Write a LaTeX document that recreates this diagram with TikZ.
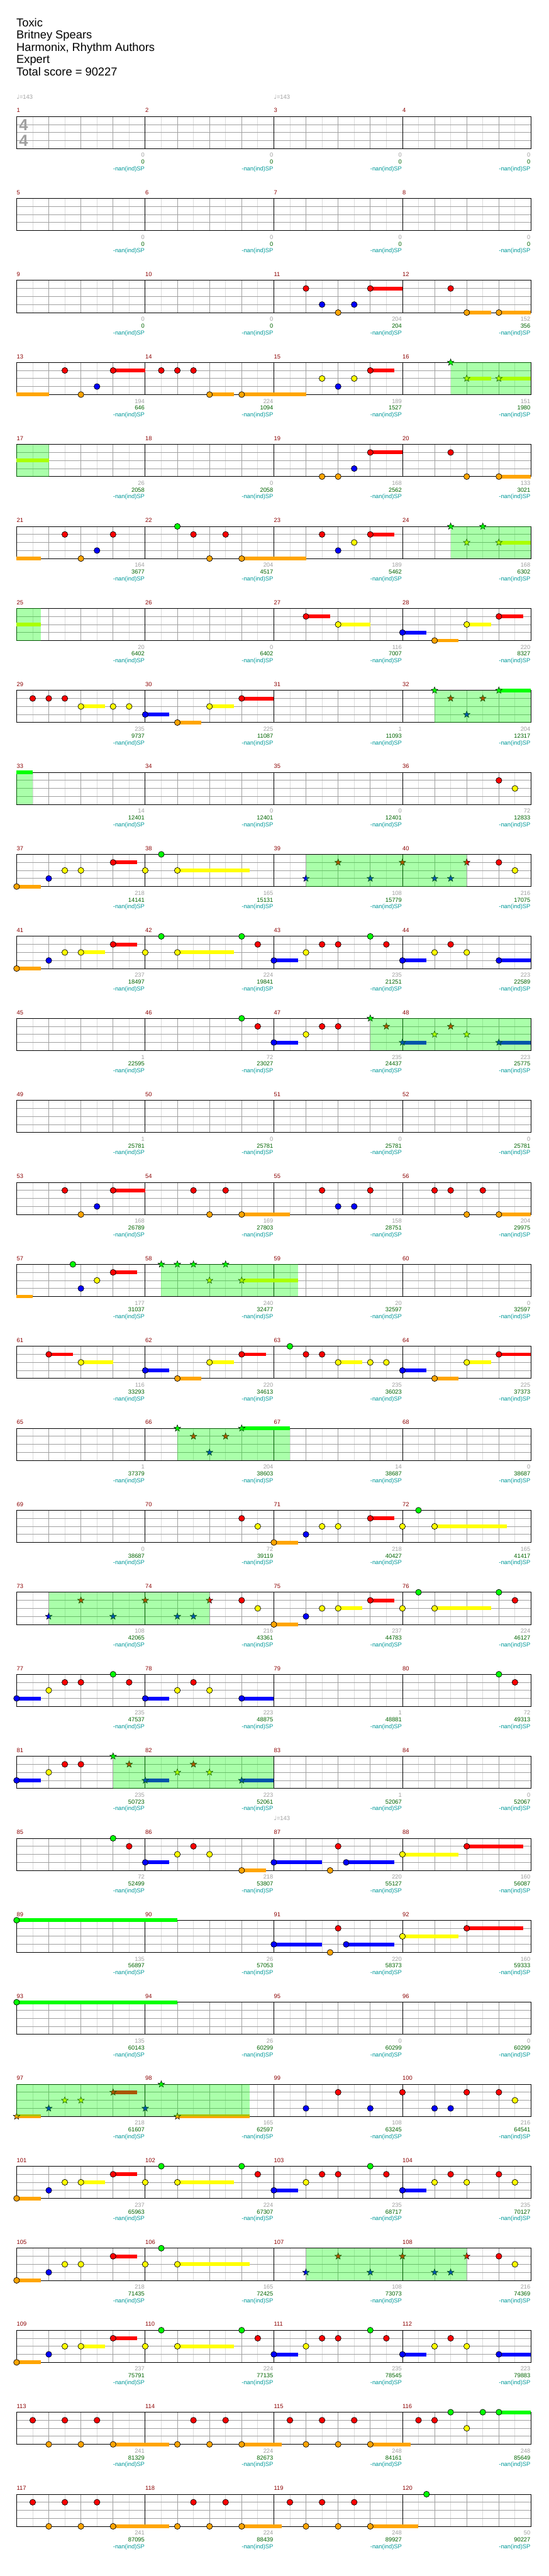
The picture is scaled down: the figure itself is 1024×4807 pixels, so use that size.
\documentclass[tikz,border=0pt]{standalone}
\usepackage{fontspec}
\setmainfont{Liberation Sans}
\newfontfamily\symfont{DejaVu Sans}
\usetikzlibrary{shapes.geometric}
\definecolor{cG}{HTML}{00FF00}
\definecolor{cR}{HTML}{FF0000}
\definecolor{cY}{HTML}{FFFF00}
\definecolor{cB}{HTML}{0000FF}
\definecolor{cO}{HTML}{FFA500}
\definecolor{gridlight}{HTML}{DCDCDC}
\definecolor{gridmid}{HTML}{A0A0A0}
\definecolor{mnum}{HTML}{8B0000}
\definecolor{scgreen}{HTML}{006400}
\definecolor{spteal}{HTML}{009999}
\def\laneG{0}\def\laneR{1}\def\laneY{2}\def\laneB{3}\def\laneO{4}
\newcommand\ly[1]{\csname lane#1\endcsname}
\tikzset{
  notedot/.style={draw=black, line width=0.8pt, circle, inner sep=0pt, minimum size=11pt},
  starnote/.style={draw=black, line width=0.6pt, star, star points=5, star point ratio=2.4, inner sep=0pt, minimum size=13pt},
  susbar/.style={line width=7pt},
  smalltxt/.style={font=\fontsize{11}{11}\selectfont, inner sep=0pt},
  mnumlab/.style={smalltxt, anchor=base west, text=mnum},
  sclab/.style={smalltxt, anchor=base east},
  spbox/.style={fill=cG, fill opacity=0.3333},
  gridthin/.style={line width=1pt},
  headtxt/.style={anchor=base west, font=\fontsize{21.5}{21.5}\selectfont, inner sep=0pt},
}
\newcommand\xsus[3]{\draw[susbar, c#1] (#2,\ly{#1}) -- (#3,\ly{#1});}
\newcommand\xn[2]{\node[notedot, fill=c#1] at (#2,\ly{#1}) {};}
\newcommand\xns[3]{\xsus{#1}{#2}{#3}\xn{#1}{#2}}
\newcommand\xs[2]{\node[starnote, fill=c#1] at (#2,\ly{#1}) {};}
\newcommand\xss[3]{\xsus{#1}{#2}{#3}\xs{#1}{#2}}
\newcommand\xsp[2]{\fill[spbox] (#1,0) rectangle (#2,4);}
\newcommand\xgrid{%
  \foreach \i in {1,3,...,31} \draw[gridlight, gridthin] (\i,0) -- (\i,4);
  \foreach \j in {1,2,3} \draw[gridmid, gridthin] (0,\j) -- (32,\j);
  \foreach \i in {2,4,6,10,12,14,18,20,22,26,28,30} \draw[gridmid, gridthin] (\i,0) -- (\i,4);
  \foreach \i in {8,16,24} \draw[black, gridthin] (\i,0) -- (\i,4);
  \draw[black, gridthin] (0,0) rectangle (32,4);
}
\newcommand\xlab[4]{%
  \node[mnumlab, yshift=7.3pt] at ({8*#1},0) {#2};
  \node[sclab, text=gridmid, xshift=-1pt, yshift=-16pt] at ({8*#1+8},4) {#3};
  \node[sclab, text=scgreen, xshift=-1pt, yshift=-28.7pt] at ({8*#1+8},4) {#4};
  \node[sclab, text=spteal, xshift=-1pt, yshift=-41.3pt] at ({8*#1+8},4) {-nan(ind)SP};
}
\newcommand\xtempo[1]{\node[smalltxt, anchor=base west, text=gridmid, yshift=33pt] at ({8*#1},0) {{\symfont ♩}=143};}
\newcommand\xrow[2]{\begin{scope}[shift={(31,{217.3+153*(#1-1)})}, x=30pt, y=-15pt]\xgrid #2\end{scope}}

\begin{document}
\begin{tikzpicture}[x=1pt,y=-1pt]
\fill[white] (0,0) rectangle (1024,4807);
\useasboundingbox (0,0) rectangle (1024,4807);
\node[headtxt] (title) at (30.5,49.3) {Toxic};
\node[headtxt] (artist) at (30.5,72.3) {Britney Spears};
\node[headtxt] (author) at (30.5,95.7) {Harmonix, Rhythm Authors};
\node[headtxt] (diff) at (30.5,118.3) {Expert};
\node[headtxt] (total) at (30.5,141.7) {Total score = 90227};

% row 1
\xrow{1}{\xlab{0}{1}{0}{0}\xlab{1}{2}{0}{0}\xlab{2}{3}{0}{0}\xlab{3}{4}{0}{0}
 \xtempo{0}\xtempo{2}
 \node[font=\bfseries\fontsize{30}{30}\selectfont, text=gridmid, inner sep=0pt] (ts1) at (0.43,1.05) {4};
 \node[font=\bfseries\fontsize{30}{30}\selectfont, text=gridmid, inner sep=0pt] (ts2) at (0.43,3.05) {4};}
% row 2
\xrow{2}{\xlab{0}{5}{0}{0}\xlab{1}{6}{0}{0}\xlab{2}{7}{0}{0}\xlab{3}{8}{0}{0}}
% row 3
\xrow{3}{\xlab{0}{9}{0}{0}\xlab{1}{10}{0}{0}\xlab{2}{11}{204}{204}\xlab{3}{12}{152}{356}
 \xn{R}{18}\xn{B}{19}\xn{O}{20}\xn{B}{21}\xns{R}{22}{24}\xn{R}{27}\xns{O}{28}{29.5}\xns{O}{30}{32}}
% row 4
\xrow{4}{\xlab{0}{13}{194}{646}\xlab{1}{14}{224}{1094}\xlab{2}{15}{189}{1527}\xlab{3}{16}{151}{1980}
 \xsus{O}{0}{2}\xn{R}{3}\xn{O}{4}\xn{B}{5}\xns{R}{6}{8}\xn{R}{9}\xn{R}{10}\xn{R}{11}\xns{O}{12}{13.5}\xns{O}{14}{18}
 \xn{Y}{19}\xn{B}{20}\xn{Y}{21}\xns{R}{22}{23.5}
 \xs{G}{27}\xss{Y}{28}{29.5}\xss{Y}{30}{32}\xsp{27}{32}}
% row 5
\xrow{5}{\xlab{0}{17}{26}{2058}\xlab{1}{18}{0}{2058}\xlab{2}{19}{168}{2562}\xlab{3}{20}{133}{3021}
 \xsus{Y}{0}{2}\xn{O}{19}\xn{O}{20}\xn{B}{21}\xns{R}{22}{24}\xn{R}{27}\xn{O}{28}\xns{O}{30}{32}\xsp{0}{2}}
% row 6
\xrow{6}{\xlab{0}{21}{164}{3677}\xlab{1}{22}{204}{4517}\xlab{2}{23}{189}{5462}\xlab{3}{24}{168}{6302}
 \xsus{O}{0}{1.5}\xn{R}{3}\xn{O}{4}\xn{B}{5}\xn{R}{6}\xn{G}{10}\xn{R}{11}\xn{O}{12}\xn{R}{13}\xns{O}{14}{18}
 \xn{R}{19}\xn{B}{20}\xn{Y}{21}\xns{R}{22}{23.5}
 \xs{G}{27}\xs{Y}{28}\xs{G}{29}\xss{Y}{30}{32}\xsp{27}{32}}
% row 7
\xrow{7}{\xlab{0}{25}{20}{6402}\xlab{1}{26}{0}{6402}\xlab{2}{27}{116}{7007}\xlab{3}{28}{220}{8327}
 \xsus{Y}{0}{1.5}\xns{R}{18}{19.5}\xns{Y}{20}{22}\xns{B}{24}{25.5}\xns{O}{26}{27.5}\xns{Y}{28}{29.5}\xns{R}{30}{31.5}\xsp{0}{1.5}}
% row 8
\xrow{8}{\xlab{0}{29}{235}{9737}\xlab{1}{30}{225}{11087}\xlab{2}{31}{1}{11093}\xlab{3}{32}{204}{12317}
 \xn{R}{1}\xn{R}{2}\xn{R}{3}\xns{Y}{4}{5.5}\xn{Y}{6}\xn{Y}{7}\xns{B}{8}{9.5}\xns{O}{10}{11.5}\xns{Y}{12}{13.5}\xns{R}{14}{16}
 \xs{G}{26}\xs{R}{27}\xs{B}{28}\xs{R}{29}\xss{G}{30}{32}\xsp{26}{32}}
% row 9
\xrow{9}{\xlab{0}{33}{14}{12401}\xlab{1}{34}{0}{12401}\xlab{2}{35}{0}{12401}\xlab{3}{36}{72}{12833}
 \xsus{G}{0}{1}\xn{R}{30}\xn{Y}{31}\xsp{0}{1}}
% row 10
\xrow{10}{\xlab{0}{37}{218}{14141}\xlab{1}{38}{165}{15131}\xlab{2}{39}{108}{15779}\xlab{3}{40}{216}{17075}
 \xns{O}{0}{1.5}\xn{B}{2}\xn{Y}{3}\xn{Y}{4}\xns{R}{6}{7.5}\xn{Y}{8}\xn{G}{9}\xns{Y}{10}{14.5}
 \xs{B}{18}\xs{R}{20}\xs{B}{22}\xs{R}{24}\xs{B}{26}\xs{B}{27}\xs{R}{28}\xn{R}{30}\xn{Y}{31}\xsp{18}{28}}
% row 11
\xrow{11}{\xlab{0}{41}{237}{18497}\xlab{1}{42}{224}{19841}\xlab{2}{43}{235}{21251}\xlab{3}{44}{223}{22589}
 \xns{O}{0}{1.5}\xn{B}{2}\xn{Y}{3}\xns{Y}{4}{5.5}\xns{R}{6}{7.5}\xn{Y}{8}\xn{G}{9}\xns{Y}{10}{13.5}\xn{G}{14}\xn{R}{15}
 \xns{B}{16}{17.5}\xn{Y}{18}\xn{R}{19}\xn{R}{20}\xn{G}{22}\xn{R}{23}\xns{B}{24}{25.5}\xn{Y}{26}\xn{R}{27}\xn{Y}{28}\xns{B}{30}{32}}
% row 12
\xrow{12}{\xlab{0}{45}{1}{22595}\xlab{1}{46}{72}{23027}\xlab{2}{47}{235}{24437}\xlab{3}{48}{223}{25775}
 \xn{G}{14}\xn{R}{15}\xns{B}{16}{17.5}\xn{Y}{18}\xn{R}{19}\xn{R}{20}
 \xs{G}{22}\xs{R}{23}\xss{B}{24}{25.5}\xs{Y}{26}\xs{R}{27}\xs{Y}{28}\xss{B}{30}{32}\xsp{22}{32}}
% row 13
\xrow{13}{\xlab{0}{49}{1}{25781}\xlab{1}{50}{0}{25781}\xlab{2}{51}{0}{25781}\xlab{3}{52}{0}{25781}}
% row 14
\xrow{14}{\xlab{0}{53}{168}{26789}\xlab{1}{54}{169}{27803}\xlab{2}{55}{158}{28751}\xlab{3}{56}{204}{29975}
 \xn{R}{3}\xn{O}{4}\xn{B}{5}\xns{R}{6}{8}\xn{R}{11}\xn{O}{12}\xn{R}{13}\xns{O}{14}{17}
 \xn{R}{19}\xn{B}{20}\xn{B}{21}\xn{R}{22}\xn{R}{26}\xn{R}{27}\xn{O}{28}\xn{R}{29}\xns{O}{30}{32}}
% row 15
\xrow{15}{\xlab{0}{57}{177}{31037}\xlab{1}{58}{240}{32477}\xlab{2}{59}{20}{32597}\xlab{3}{60}{0}{32597}
 \xsus{O}{0}{1}\xn{G}{3.5}\xn{B}{4}\xn{Y}{5}\xns{R}{6}{7.5}
 \xs{G}{9}\xs{G}{10}\xs{G}{11}\xs{Y}{12}\xs{G}{13}\xss{Y}{14}{17.5}\xsp{9}{17.5}}
% row 16
\xrow{16}{\xlab{0}{61}{116}{33293}\xlab{1}{62}{220}{34613}\xlab{2}{63}{235}{36023}\xlab{3}{64}{225}{37373}
 \xns{R}{2}{3.5}\xns{Y}{4}{6}\xns{B}{8}{9.5}\xns{O}{10}{11.5}\xns{Y}{12}{13.5}\xns{R}{14}{15.5}
 \xn{G}{17}\xn{R}{18}\xn{R}{19}\xns{Y}{20}{21.5}\xn{Y}{22}\xn{Y}{23}\xns{B}{24}{25.5}\xns{O}{26}{27.5}\xns{Y}{28}{29.5}\xns{R}{30}{32}}
% row 17
\xrow{17}{\xlab{0}{65}{1}{37379}\xlab{1}{66}{204}{38603}\xlab{2}{67}{14}{38687}\xlab{3}{68}{0}{38687}
 \xs{G}{10}\xs{R}{11}\xs{B}{12}\xs{R}{13}\xss{G}{14}{17}\xsp{10}{17}}
% row 18
\xrow{18}{\xlab{0}{69}{0}{38687}\xlab{1}{70}{72}{39119}\xlab{2}{71}{218}{40427}\xlab{3}{72}{165}{41417}
 \xn{R}{14}\xn{Y}{15}\xns{O}{16}{17.5}\xn{B}{18}\xn{Y}{19}\xn{Y}{20}\xns{R}{22}{23.5}\xn{Y}{24}\xn{G}{25}\xns{Y}{26}{30.5}}
% row 19
\xrow{19}{\xlab{0}{73}{108}{42065}\xlab{1}{74}{216}{43361}\xlab{2}{75}{237}{44783}\xlab{3}{76}{224}{46127}
 \xs{B}{2}\xs{R}{4}\xs{B}{6}\xs{R}{8}\xs{B}{10}\xs{B}{11}\xs{R}{12}\xn{R}{14}\xn{Y}{15}
 \xns{O}{16}{17.5}\xn{B}{18}\xn{Y}{19}\xns{Y}{20}{21.5}\xns{R}{22}{23.5}\xn{Y}{24}\xn{G}{25}\xns{Y}{26}{29.5}\xn{G}{30}\xn{R}{31}\xsp{2}{12}}
% row 20
\xrow{20}{\xlab{0}{77}{235}{47537}\xlab{1}{78}{223}{48875}\xlab{2}{79}{1}{48881}\xlab{3}{80}{72}{49313}
 \xns{B}{0}{1.5}\xn{Y}{2}\xn{R}{3}\xn{R}{4}\xn{G}{6}\xn{R}{7}\xns{B}{8}{9.5}\xn{Y}{10}\xn{R}{11}\xn{Y}{12}\xns{B}{14}{16}\xn{G}{30}\xn{R}{31}}
% row 21
\xrow{21}{\xlab{0}{81}{235}{50723}\xlab{1}{82}{223}{52061}\xlab{2}{83}{1}{52067}\xlab{3}{84}{0}{52067}
 \xns{B}{0}{1.5}\xn{Y}{2}\xn{R}{3}\xn{R}{4}
 \xs{G}{6}\xs{R}{7}\xss{B}{8}{9.5}\xs{Y}{10}\xs{R}{11}\xs{Y}{12}\xss{B}{14}{16}\xsp{6}{16}}
% row 22
\xrow{22}{\xlab{0}{85}{72}{52499}\xlab{1}{86}{218}{53807}\xlab{2}{87}{220}{55127}\xlab{3}{88}{160}{56087}
 \xtempo{2}
 \xn{G}{6}\xn{R}{7}\xns{B}{8}{9.5}\xn{Y}{10}\xn{R}{11}\xn{Y}{12}\xns{O}{14}{15.5}
 \xns{B}{16}{19}\xn{O}{19.5}\xn{R}{20}\xns{B}{20.5}{23.5}\xns{Y}{24}{27.5}\xns{R}{28}{31.5}}
% row 23
\xrow{23}{\xlab{0}{89}{135}{56897}\xlab{1}{90}{26}{57053}\xlab{2}{91}{220}{58373}\xlab{3}{92}{160}{59333}
 \xns{G}{0}{10}\xns{B}{16}{19}\xn{O}{19.5}\xn{R}{20}\xns{B}{20.5}{23.5}\xns{Y}{24}{27.5}\xns{R}{28}{31.5}}
% row 24
\xrow{24}{\xlab{0}{93}{135}{60143}\xlab{1}{94}{26}{60299}\xlab{2}{95}{0}{60299}\xlab{3}{96}{0}{60299}
 \xns{G}{0}{10}}
% row 25
\xrow{25}{\xlab{0}{97}{218}{61607}\xlab{1}{98}{165}{62597}\xlab{2}{99}{108}{63245}\xlab{3}{100}{216}{64541}
 \xss{O}{0}{1.5}\xs{B}{2}\xs{Y}{3}\xs{Y}{4}\xss{R}{6}{7.5}\xs{B}{8}\xs{G}{9}\xss{O}{10}{14.5}
 \xn{B}{18}\xn{R}{20}\xn{B}{22}\xn{R}{24}\xn{B}{26}\xn{B}{27}\xn{R}{28}\xn{R}{30}\xn{Y}{31}\xsp{0}{14.5}}
% row 26
\xrow{26}{\xlab{0}{101}{237}{65963}\xlab{1}{102}{224}{67307}\xlab{2}{103}{235}{68717}\xlab{3}{104}{235}{70127}
 \xns{O}{0}{1.5}\xn{B}{2}\xn{Y}{3}\xns{Y}{4}{5.5}\xns{R}{6}{7.5}\xn{Y}{8}\xn{G}{9}\xns{Y}{10}{13.5}\xn{G}{14}\xn{R}{15}
 \xns{B}{16}{17.5}\xn{Y}{18}\xn{R}{19}\xn{R}{20}\xn{G}{22}\xn{R}{23}\xns{B}{24}{25.5}\xn{Y}{26}\xn{R}{27}\xn{Y}{28}\xn{R}{30}\xn{Y}{31}}
% row 27
\xrow{27}{\xlab{0}{105}{218}{71435}\xlab{1}{106}{165}{72425}\xlab{2}{107}{108}{73073}\xlab{3}{108}{216}{74369}
 \xns{O}{0}{1.5}\xn{B}{2}\xn{Y}{3}\xn{Y}{4}\xns{R}{6}{7.5}\xn{Y}{8}\xn{G}{9}\xns{Y}{10}{14.5}
 \xs{B}{18}\xs{R}{20}\xs{B}{22}\xs{R}{24}\xs{B}{26}\xs{B}{27}\xs{R}{28}\xn{R}{30}\xn{Y}{31}\xsp{18}{28}}
% row 28
\xrow{28}{\xlab{0}{109}{237}{75791}\xlab{1}{110}{224}{77135}\xlab{2}{111}{235}{78545}\xlab{3}{112}{223}{79883}
 \xns{O}{0}{1.5}\xn{B}{2}\xn{Y}{3}\xns{Y}{4}{5.5}\xns{R}{6}{7.5}\xn{Y}{8}\xn{G}{9}\xns{Y}{10}{13.5}\xn{G}{14}\xn{R}{15}
 \xns{B}{16}{17.5}\xn{Y}{18}\xn{R}{19}\xn{R}{20}\xn{G}{22}\xn{R}{23}\xns{B}{24}{25.5}\xn{Y}{26}\xn{R}{27}\xn{Y}{28}\xns{B}{30}{32}}
% row 29
\xrow{29}{\xlab{0}{113}{241}{81329}\xlab{1}{114}{224}{82673}\xlab{2}{115}{248}{84161}\xlab{3}{116}{248}{85649}
 \xn{R}{1}\xn{O}{2}\xn{R}{3}\xn{O}{4}\xn{R}{5}\xns{O}{6}{9.5}\xn{O}{10}\xn{R}{11}\xn{O}{12}\xn{R}{13}\xns{O}{14}{16.5}
 \xn{R}{17}\xn{O}{18}\xn{R}{19}\xn{O}{20}\xn{R}{21}\xns{O}{22}{24.5}\xn{R}{25}\xn{R}{26}\xn{G}{27}\xn{Y}{28}\xn{G}{29}\xns{G}{30}{32}}
% row 30
\xrow{30}{\xlab{0}{117}{241}{87095}\xlab{1}{118}{224}{88439}\xlab{2}{119}{248}{89927}\xlab{3}{120}{50}{90227}
 \xn{R}{1}\xn{O}{2}\xn{R}{3}\xn{O}{4}\xn{R}{5}\xns{O}{6}{9.5}\xn{O}{10}\xn{R}{11}\xn{O}{12}\xn{R}{13}\xns{O}{14}{16.5}
 \xn{R}{17}\xn{O}{18}\xn{R}{19}\xn{O}{20}\xn{R}{21}\xns{O}{22}{25}\xn{G}{25.5}}
\end{tikzpicture}
\end{document}
